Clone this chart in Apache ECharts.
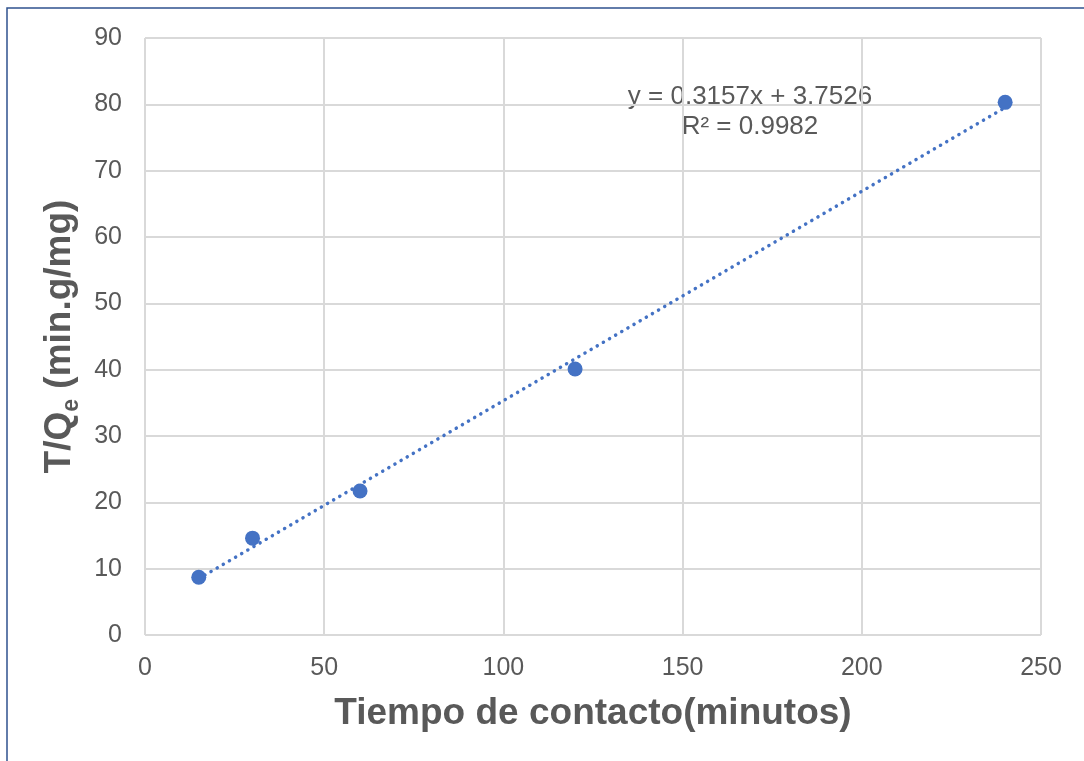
<!DOCTYPE html>
<html>
<head>
<meta charset="utf-8">
<script src="https://cdn.jsdelivr.net/npm/echarts@6/dist/echarts.min.js"></script>
<style>
  html, body { margin: 0; padding: 0; background: #fff; }
  #main { width: 1084px; height: 761px; }
</style>
</head>
<body>
<div id="main"></div>
<script>
// tiempo de contacto (min) vs T/Qe
var tiempo = [15, 30, 60, 120, 240];
var tq = [8.7, 14.6, 21.7, 40.1, 80.3];
// linea de tendencia (extremos)
var trendX = [15, 240];
var trendY = [8.49, 79.52];
var ecuacion = 'y = 0.3157x + 3.7526';
var r2 = 'R² = 0.9982';

var azul = '#4472C4';
var gris = '#595959';

var puntos = [];
for (var i = 0; i < tiempo.length; i++) puntos.push([tiempo[i], tq[i]]);
var tendencia = [];
for (var j = 0; j < trendX.length; j++) tendencia.push([trendX[j], trendY[j]]);

var dom = document.getElementById('main');
var myChart = echarts.init(dom);

var option = {
    backgroundColor: '#fff',
    animation: false,
    grid: {
        left: 145,
        right: 43,
        top: 38,
        bottom: 126
    },
    xAxis: {
        type: 'value',
        min: 0,
        max: 250,
        interval: 50,
        name: 'Tiempo de contacto(minutos)',
        nameLocation: 'middle',
        nameGap: 60,
        nameTextStyle: {
            fontFamily: 'Liberation Sans',
            fontSize: 37,
            fontWeight: 'bold',
            color: gris
        },
        axisLine: { show: false },
        axisTick: { show: false },
        axisLabel: {
            fontFamily: 'Liberation Sans',
            fontSize: 25,
            color: gris,
            margin: 21
        },
        splitLine: { lineStyle: { color: '#d9d9d9', width: 2 } }
    },
    yAxis: {
        type: 'value',
        min: 0,
        max: 90,
        interval: 10,
        name: '{b|T/Q}{s|e}{b| (min.g/mg)}',
        nameLocation: 'middle',
        nameGap: 60,
        nameTextStyle: {
            rich: {
                b: { fontFamily: 'Liberation Sans', fontSize: 37, fontWeight: 'bold', color: gris },
                s: { fontFamily: 'Liberation Sans', fontSize: 23, fontWeight: 'bold', color: gris, verticalAlign: 'bottom', padding: [24, 0, 0, 0] }
            }
        },
        axisLine: { show: false },
        axisTick: { show: false },
        axisLabel: {
            fontFamily: 'Liberation Sans',
            fontSize: 25,
            color: gris,
            margin: 23
        },
        splitLine: { lineStyle: { color: '#d9d9d9', width: 2 } }
    },
    graphic: [
        {
            type: 'rect',
            silent: true,
            shape: { x: 7, y: 8, width: 1200, height: 900 },
            style: { fill: 'none', stroke: '#2F528F', lineWidth: 1.5 }
        },
        {
            type: 'text',
            x: 750, y: 97,
            silent: true,
            style: {
                text: ecuacion,
                font: '26px "Liberation Sans"',
                fill: gris,
                align: 'center',
                verticalAlign: 'middle'
            }
        },
        {
            type: 'text',
            x: 750, y: 127,
            silent: true,
            style: {
                text: r2,
                font: '26px "Liberation Sans"',
                fill: gris,
                align: 'center',
                verticalAlign: 'middle'
            }
        }
    ],
    series: [
        {
            type: 'line',
            data: tendencia,
            symbol: 'none',
            z: 2,
            lineStyle: {
                color: azul,
                width: 3.5,
                type: [0.1, 7],
                cap: 'round'
            }
        },
        {
            type: 'scatter',
            data: puntos,
            symbol: 'circle',
            symbolSize: 15,
            z: 3,
            itemStyle: { color: azul, opacity: 1 }
        }
    ]
};

myChart.setOption(option);
</script>
</body>
</html>
